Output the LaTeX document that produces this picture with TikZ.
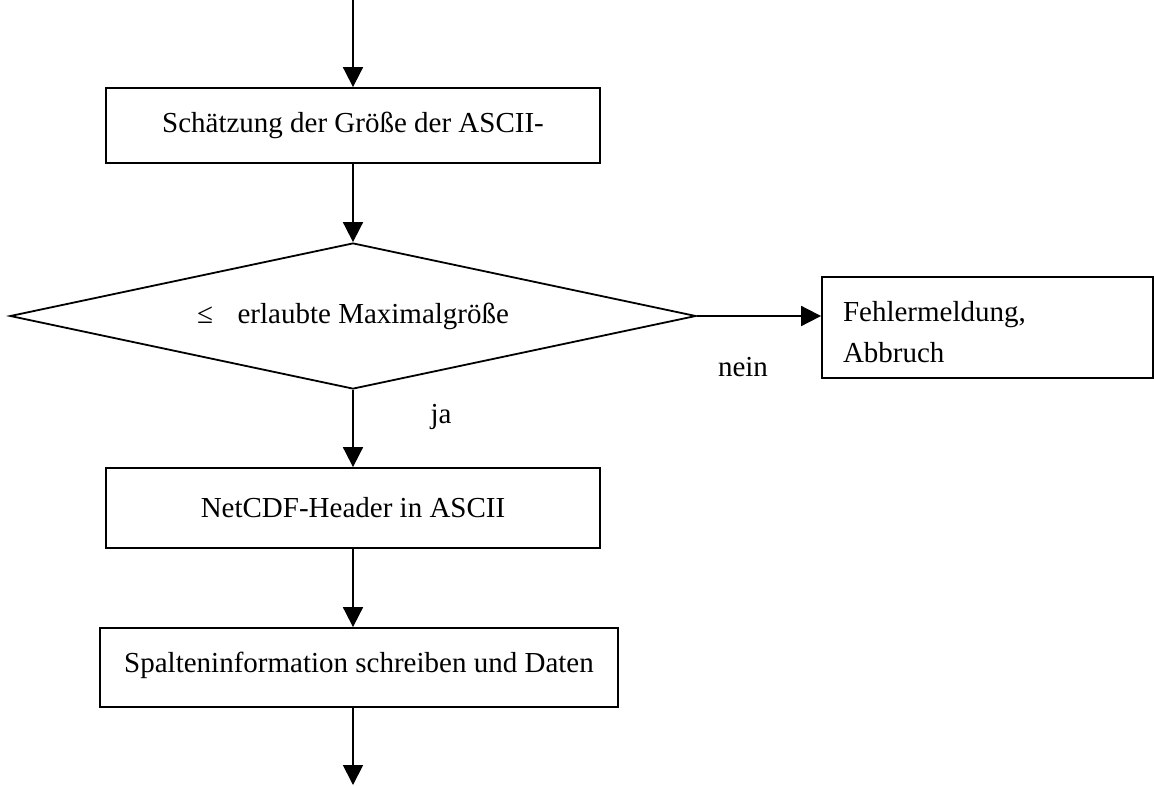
\documentclass[tikz,border=0pt]{standalone}
\usepackage{fontspec}
\setmainfont{Liberation Serif}
\usetikzlibrary{arrows.meta,shapes.geometric}
\begin{document}
\begin{tikzpicture}[x=1pt,y=-1pt,
  every node/.style={font=\fontsize{29}{41}\selectfont},
  flowbox/.style={draw,line width=1.8pt,inner sep=0pt,align=center},
  decision/.style={draw,diamond,line width=1.8pt,inner sep=0pt,aspect=4.7},
  flow/.style={line width=1.8pt,-{Triangle[length=20pt,width=20pt]}},
  lbl/.style={inner sep=0pt,anchor=base}]
\useasboundingbox (0,0) rectangle (1154,785);
\coordinate (start) at (353,0);
\coordinate (finish) at (353,785);
\node[flowbox,minimum width=494pt,minimum height=75pt] (est) at (353,125.5) {Schätzung der Größe der ASCII-};
\node[decision,minimum width=686pt,minimum height=146pt] (dec) at (353,316) {≤\hspace{0.6em} erlaubte Maximalgröße};
\node[flowbox,minimum width=331pt,minimum height=101pt,text width=289pt,align=left,text height=30pt] (err) at (987.5,327.5) {Fehlermeldung,\\Abbruch};
\node[flowbox,minimum width=494pt,minimum height=80pt] (hdr) at (353,508) {NetCDF-Header in ASCII};
\node[flowbox,minimum width=518pt,minimum height=79pt,text depth=11pt] (col) at (359,667.5) {Spalteninformation schreiben und Daten};
\node[lbl] (ja) at (441,423) {ja};
\node[lbl] (nein) at (743,376) {nein};
\draw[flow] (start) -- (est.north);
\draw[flow] (est.south) -- (dec.north);
\draw[flow] (dec.east) -- (dec.east -| err.west);
\draw[flow] (dec.south) -- (hdr.north);
\draw[flow] (hdr.south) -- (hdr.south |- col.north);
\draw[flow] (hdr.south |- col.south) -- (finish);
\end{tikzpicture}
\end{document}
